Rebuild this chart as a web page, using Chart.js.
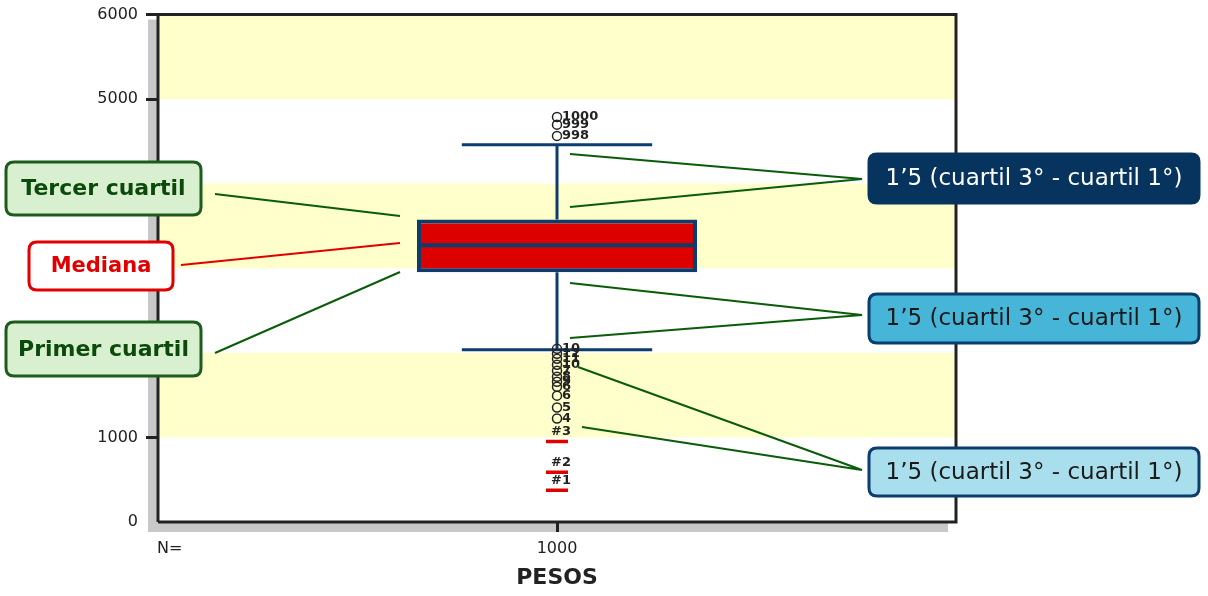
<!DOCTYPE html>
<html>
<head>
<meta charset="utf-8">
<script src="https://cdn.jsdelivr.net/npm/chart.js@4/dist/chart.umd.min.js"></script>
<style>
  html, body { margin:0; padding:0; background:#ffffff; }
  #wrap { width:1208px; height:596px; }
</style>
</head>
<body>
<div id="wrap"><canvas id="c" width="1208" height="596"></canvas></div>
<script>
// ---- data ----
const categories = ['1000'];
const q1Values = [2953];
const medianValues = [3271];
const q3Values = [3576];
const whiskerLowValues = [2035];
const whiskerHighValues = [4459];
const outlierValues = [4788, 4698, 4565, 2047, 1988, 1929, 1859, 1788, 1718, 1659, 1600, 1494, 1353, 1224];
const outlierLabels = ['1000', '999', '998', '10', '12', '11', '10', '7', '8', '9', '6', '6', '5', '4'];
const extremeValues = [953, 588, 376];
const extremeLabels = ['#3', '#2', '#1'];
const yTickValues = [0, 1000, 2000, 3000, 4000, 5000, 6000];
const bandRanges = [[1000, 2000], [3000, 4000], [5000, 6000]];
const countLabel = 'N=';
const axisTitle = 'PESOS';

const NAVY = '#0b3d6e';
const TICKFONT = { family: 'DejaVu Sans', size: 16, weight: 'normal' };

function roundRect(ctx, x, y, w, h, r) {
  ctx.beginPath();
  ctx.moveTo(x + r, y);
  ctx.lineTo(x + w - r, y);
  ctx.quadraticCurveTo(x + w, y, x + w, y + r);
  ctx.lineTo(x + w, y + h - r);
  ctx.quadraticCurveTo(x + w, y + h, x + w - r, y + h);
  ctx.lineTo(x + r, y + h);
  ctx.quadraticCurveTo(x, y + h, x, y + h - r);
  ctx.lineTo(x, y + r);
  ctx.quadraticCurveTo(x, y, x + r, y);
  ctx.closePath();
}

const callouts = [
  { x: 6, y: 162, w: 195, h: 53, fill: '#d8f0d0', stroke: '#1d5c1d', color: '#0c4a0c', font: 'bold 22px "DejaVu Sans"', text: 'Tercer cuartil' },
  { x: 29, y: 242, w: 144, h: 48, fill: '#ffffff', stroke: '#e00000', color: '#e00000', font: 'bold 21px "DejaVu Sans"', text: 'Mediana' },
  { x: 6, y: 322, w: 195, h: 54, fill: '#d8f0d0', stroke: '#1d5c1d', color: '#0c4a0c', font: 'bold 22px "DejaVu Sans"', text: 'Primer cuartil' },
  { x: 869, y: 154, w: 330, h: 49, fill: '#06345f', stroke: '#06345f', color: '#ffffff', font: '23px "DejaVu Sans"', text: '1’5 (cuartil 3° - cuartil 1°)' },
  { x: 869, y: 294, w: 330, h: 49, fill: '#47b5d7', stroke: NAVY, color: '#1a1a1a', font: '23px "DejaVu Sans"', text: '1’5 (cuartil 3° - cuartil 1°)' },
  { x: 869, y: 448, w: 330, h: 48, fill: '#a9deec', stroke: NAVY, color: '#1a1a1a', font: '23px "DejaVu Sans"', text: '1’5 (cuartil 3° - cuartil 1°)' }
];
const leaders = [
  { c: '#0a5c0a', pts: [[215, 194], [400, 216]] },
  { c: '#e00000', pts: [[181, 265], [400, 243]] },
  { c: '#0a5c0a', pts: [[215, 353], [400, 272]] },
  { c: '#0a5c0a', pts: [[570, 154], [862, 179], [570, 207]] },
  { c: '#0a5c0a', pts: [[570, 283], [862, 315], [570, 338]] },
  { c: '#0a5c0a', pts: [[578, 367], [862, 470], [582, 427]] }
];

const boxPlugin = {
  id: 'boxExtras',
  beforeDraw(chart) {
    const ctx = chart.ctx, a = chart.chartArea, y = chart.scales.y;
    ctx.save();
    ctx.fillStyle = '#c8c8c8';
    ctx.fillRect(a.left - 10, a.top + 5, a.right - a.left + 2, a.bottom - a.top + 5);
    ctx.fillStyle = '#ffffff';
    ctx.fillRect(a.left, a.top, a.right - a.left, a.bottom - a.top);
    ctx.fillStyle = '#ffffcc';
    bandRanges.forEach(([lo, hi]) => {
      const yt = y.getPixelForValue(hi), yb = y.getPixelForValue(lo);
      ctx.fillRect(a.left, yt, a.right - a.left, yb - yt);
    });
    ctx.restore();
  },
  beforeDatasetsDraw(chart) {
    const ctx = chart.ctx, a = chart.chartArea, y = chart.scales.y;
    const meta = chart.getDatasetMeta(0);
    ctx.save();
    ctx.strokeStyle = '#222';
    ctx.lineWidth = 3;
    ctx.beginPath();
    ctx.moveTo(a.left, a.bottom);
    ctx.lineTo(a.left, a.top);
    ctx.lineTo(a.right, a.top);
    ctx.lineTo(a.right, a.bottom);
    ctx.lineTo(a.left, a.bottom);
    ctx.stroke();
    meta.data.forEach((bar, i) => {
      const cx = bar.x, half = bar.width * 0.34;
      const yLo = y.getPixelForValue(whiskerLowValues[i]);
      const yHi = y.getPixelForValue(whiskerHighValues[i]);
      const yQ1 = y.getPixelForValue(q1Values[i]);
      const yQ3 = y.getPixelForValue(q3Values[i]);
      ctx.strokeStyle = NAVY;
      ctx.lineWidth = 3;
      ctx.beginPath();
      ctx.moveTo(cx, yHi); ctx.lineTo(cx, yQ3);
      ctx.moveTo(cx, yQ1); ctx.lineTo(cx, yLo);
      ctx.moveTo(cx - half, yHi); ctx.lineTo(cx + half, yHi);
      ctx.moveTo(cx - half, yLo); ctx.lineTo(cx + half, yLo);
      ctx.stroke();
    });
    ctx.restore();
  },
  afterDatasetsDraw(chart) {
    const ctx = chart.ctx, y = chart.scales.y;
    const meta = chart.getDatasetMeta(0);
    ctx.save();
    meta.data.forEach((bar, i) => {
      const ym = y.getPixelForValue(medianValues[i]);
      ctx.strokeStyle = NAVY;
      ctx.lineWidth = 4;
      ctx.beginPath();
      ctx.moveTo(bar.x - bar.width / 2, ym);
      ctx.lineTo(bar.x + bar.width / 2, ym);
      ctx.stroke();
    });
    ctx.fillStyle = '#222';
    ctx.font = 'bold 13px "DejaVu Sans"';
    ctx.textAlign = 'left';
    ctx.textBaseline = 'middle';
    const om = chart.getDatasetMeta(1);
    om.data.forEach((p, i) => {
      ctx.fillText(outlierLabels[i], p.x + 5, p.y);
    });
    const em = chart.getDatasetMeta(2);
    em.data.forEach((p, i) => {
      ctx.fillText(extremeLabels[i], p.x - 6, p.y - 10);
    });
    ctx.restore();
  },
  afterDraw(chart) {
    const ctx = chart.ctx, a = chart.chartArea;
    ctx.save();
    ctx.fillStyle = '#222';
    ctx.font = '16px "DejaVu Sans"';
    ctx.textAlign = 'left';
    ctx.textBaseline = 'middle';
    ctx.fillText(countLabel, a.left - 1, 549);
    leaders.forEach(l => {
      ctx.strokeStyle = l.c;
      ctx.lineWidth = 2;
      ctx.beginPath();
      ctx.moveTo(l.pts[0][0], l.pts[0][1]);
      for (let k = 1; k < l.pts.length; k++) ctx.lineTo(l.pts[k][0], l.pts[k][1]);
      ctx.stroke();
    });
    callouts.forEach(b => {
      roundRect(ctx, b.x, b.y, b.w, b.h, 8);
      ctx.fillStyle = b.fill;
      ctx.fill();
      ctx.strokeStyle = b.stroke;
      ctx.lineWidth = 3;
      ctx.stroke();
      ctx.fillStyle = b.color;
      ctx.font = b.font;
      ctx.textAlign = 'center';
      ctx.textBaseline = 'middle';
      ctx.fillText(b.text, b.x + b.w / 2, b.y + b.h / 2 + 1);
    });
    ctx.restore();
  }
};

new Chart(document.getElementById('c'), {
  type: 'bar',
  data: {
    labels: categories,
    datasets: [
      {
        type: 'bar',
        data: q1Values.map((v, i) => [v, q3Values[i]]),
        backgroundColor: '#dd0000',
        borderColor: NAVY,
        borderWidth: 4,
        borderSkipped: false,
        categoryPercentage: 1,
        barPercentage: 280 / 798,
        order: 3
      },
      {
        type: 'line',
        showLine: false,
        data: outlierValues.map(v => ({ x: categories[0], y: v })),
        pointStyle: 'circle',
        pointRadius: 4.5,
        pointBorderWidth: 1.5,
        pointBorderColor: '#222',
        pointBackgroundColor: 'rgba(0,0,0,0)',
        order: 2
      },
      {
        type: 'line',
        showLine: false,
        data: extremeValues.map(v => ({ x: categories[0], y: v })),
        pointStyle: 'line',
        pointRadius: 11,
        pointBorderWidth: 3.5,
        pointBorderColor: '#e00000',
        order: 1
      }
    ]
  },
  options: {
    responsive: false,
    animation: false,
    events: [],
    layout: { padding: { top: 13, right: 252, left: 0, bottom: 0 } },
    plugins: { legend: { display: false }, tooltip: { enabled: false } },
    scales: {
      x: {
        type: 'category',
        offset: true,
        afterFit(s) { s.height = 74; s.paddingLeft = 0; s.paddingRight = 0; },
        border: { display: false },
        grid: {
          offset: false,
          drawOnChartArea: false,
          drawTicks: true,
          tickLength: 10,
          tickWidth: 3,
          tickColor: '#222'
        },
        ticks: { color: '#222', font: TICKFONT, padding: 7, maxRotation: 0 },
        title: {
          display: true,
          text: axisTitle,
          color: '#222',
          font: { family: 'DejaVu Sans', size: 22, weight: 'bold' },
          padding: { top: 0, bottom: 5 }
        }
      },
      y: {
        min: 0,
        max: 6000,
        afterFit(s) { s.width = 158; s.paddingTop = 0; s.paddingBottom = 0; },
        afterBuildTicks(s) { s.ticks = yTickValues.map(v => ({ value: v })); },
        border: { display: false },
        grid: {
          drawOnChartArea: false,
          drawTicks: true,
          tickLength: 12,
          tickWidth: 3,
          tickColor: ctx => (ctx.tick && ctx.tick.value === 0) ? 'rgba(0,0,0,0)' : '#222'
        },
        ticks: { color: '#222', font: TICKFONT, padding: 8, callback: v => String(v) }
      }
    }
  },
  plugins: [boxPlugin]
});
</script>
</body>
</html>
